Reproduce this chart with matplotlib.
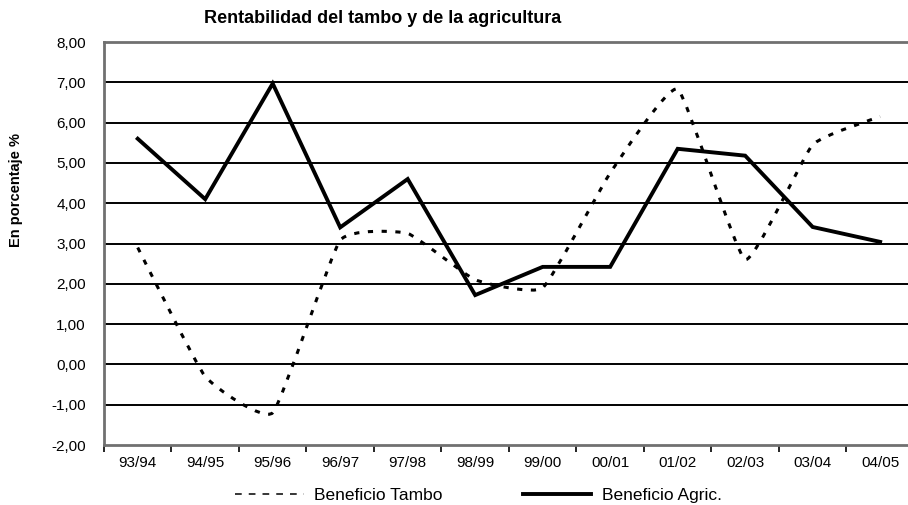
import numpy as np
import matplotlib.pyplot as plt
from matplotlib.path import Path
from matplotlib.patches import PathPatch
from matplotlib.lines import Line2D
from matplotlib.ticker import FuncFormatter, MultipleLocator

plt.rcParams["font.family"] = ["Liberation Sans", "DejaVu Sans"]

# campaigns and series (in %)
CAMPAIGNS = ["93/94", "94/95", "95/96", "96/97", "97/98", "98/99",
             "99/00", "00/01", "01/02", "02/03", "03/04", "04/05"]
TAMBO = [2.90, -0.30, -1.20, 3.08, 3.25, 2.10,
         1.90, 4.75, 6.83, 2.60, 5.45, 6.15]
AGRIC = [5.60, 4.10, 6.97, 3.40, 4.60, 1.72,
         2.42, 2.42, 5.35, 5.18, 3.41, 3.04]

TITLE = "Rentabilidad del tambo y de la agricultura"
YLABEL = "En porcentaje %"


def smooth_path(xs, ys, tension=0.4):
    """Smoothed line: cubic Bezier segments (Catmull-Rom, reduced tension)."""
    pts = np.column_stack([xs, ys]).astype(float)
    n = len(pts)
    k = tension / 6.0
    verts = [pts[0]]
    codes = [Path.MOVETO]
    for i in range(n - 1):
        p0 = pts[i - 1] if i > 0 else pts[i]
        p1 = pts[i]
        p2 = pts[i + 1]
        p3 = pts[i + 2] if i + 2 < n else pts[i + 1]
        verts += [p1 + (p2 - p0) * k, p2 - (p3 - p1) * k, p2]
        codes += [Path.CURVE4] * 3
    return Path(verts, codes)


fig = plt.figure(figsize=(9.08, 5.05), dpi=100)
ax = fig.add_axes([0.1145, 0.1188, 0.892, 0.798])

x = np.arange(len(CAMPAIGNS))

# gridlines
for v in range(-1, 8):
    ax.axhline(v, color="black", linewidth=1.4, zorder=1)

# Beneficio Tambo: smoothed dashed line
patch = PathPatch(smooth_path(x, TAMBO), facecolor="none", edgecolor="black",
                  linewidth=2.2, linestyle=(0, (1.7, 2.8)), zorder=3,
                  capstyle="butt")
ax.add_patch(patch)

# Beneficio Agric.: solid line
ax.plot(x, AGRIC, color="black", linewidth=2.8, solid_joinstyle="miter",
        zorder=4)

ax.set_xlim(-0.5, len(CAMPAIGNS) - 0.5)
ax.set_ylim(-2, 8)
ax.yaxis.set_major_locator(MultipleLocator(1))
ax.yaxis.set_major_formatter(FuncFormatter(lambda v, _: f"{v:.2f}".replace(".", ",")))
ax.set_xticks(x)
ax.set_xticklabels(CAMPAIGNS)
ax.set_xticks(np.arange(-0.5, len(CAMPAIGNS)), minor=True)

ax.tick_params(axis="y", length=0, pad=13, labelsize=11)
ax.tick_params(axis="x", which="major", length=0, pad=8, labelsize=11)
ax.tick_params(axis="x", which="minor", length=5, width=1.2,
               direction="out", color="black")

for side in ("left", "bottom", "top"):
    ax.spines[side].set_color("#707070")
    ax.spines[side].set_linewidth(2)
ax.spines["right"].set_visible(False)

fig.text(0.421, 0.964, TITLE, ha="center", va="center",
         fontsize=13, fontweight="bold")
fig.text(0.018, 0.624, YLABEL, ha="center", va="center", rotation=90,
         fontsize=10.5, fontweight="bold")

handles = [
    Line2D([], [], color="black", linewidth=1.1, linestyle=(0, (4.4, 4.6))),
    Line2D([], [], color="black", linewidth=2.8),
]
fig.legend(handles, ["Beneficio Tambo", "Beneficio Agric."],
           loc="center left", bbox_to_anchor=(0.259, 0.019), ncol=2,
           frameon=False, fontsize=12.5, handlelength=3.95, handletextpad=0.6,
           columnspacing=4.6, borderaxespad=0, borderpad=0)

fig.savefig("out.png", dpi=100)
